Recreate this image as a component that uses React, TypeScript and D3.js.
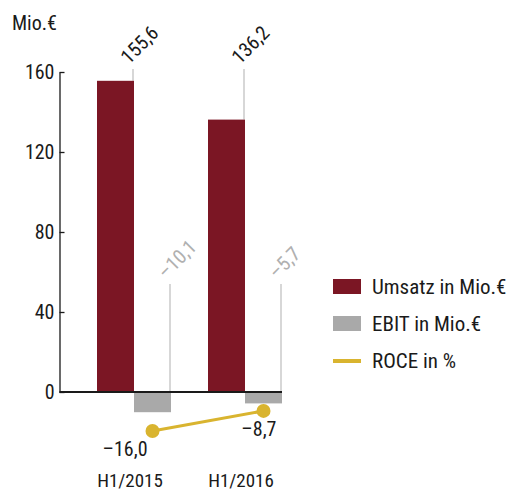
import React, { useEffect, useRef } from 'react';
import * as d3 from 'd3';

// chart data
const categories = ['H1/2015', 'H1/2016'];
const seriesKeys = ['umsatz', 'ebit'];
const umsatz = [155.6, 136.2];
const ebit = [-10.1, -5.7];
const roce = [-16.0, -8.7];
const yTicks = [0, 40, 80, 120, 160];
const legendLabels = ['Umsatz in Mio.€', 'EBIT in Mio.€', 'ROCE in %'];

const FONT = 'Roboto, "DejaVu Sans", sans-serif';
const colors = { umsatz: '#7b1624', ebit: '#a9a9a9', roce: '#d9b42f' };

const de = d3.formatLocale({
  decimal: ',',
  thousands: '.',
  grouping: [3],
  currency: ['', '€'],
  minus: '\u2013',
});
const fmt = de.format('.1f');

const App: React.FC = () => {
  const svgRef = useRef<SVGSVGElement>(null);

  useEffect(() => {
    if (!svgRef.current) return;
    const svg = d3.select(svgRef.current);
    svg.selectAll('*').remove();

    const g = svg.append('g')
      .style('font-family', FONT)
      .style('font-stretch', 'condensed');

    const y = d3.scaleLinear().domain([0, 160]).range([392, 72]);
    const roceY = d3.scaleLinear().domain([-20, 0]).range([442, 387]);

    const x0 = d3.scaleBand<string>()
      .domain(categories)
      .range([60, 319])
      .paddingInner(1 / 3)
      .paddingOuter(1 / 3);
    const x1 = d3.scaleBand<string>()
      .domain(seriesKeys)
      .range([0, x0.bandwidth()]);

    // unit label
    g.append('text')
      .attr('x', 12)
      .attr('y', 30)
      .style('font-size', '20px')
      .attr('fill', '#1a1a1a')
      .text('Mio.€');

    // y axis
    const axis = g.append('g')
      .attr('transform', 'translate(59.5,0)')
      .call(d3.axisLeft(y).tickValues(yTicks).tickSize(-5).tickSizeOuter(0).tickPadding(5));
    axis.select('.domain').attr('stroke', '#1a1a1a').attr('stroke-width', 1.3);
    axis.selectAll('.tick line').attr('stroke', '#1a1a1a').attr('stroke-width', 1.3);
    axis.selectAll('.tick text')
      .attr('fill', '#1a1a1a')
      .style('font-size', '20px')
      .style('font-family', FONT)
      .style('font-stretch', 'condensed');

    const rows = categories.map((c, i) => ({
      cat: c,
      values: [
        { key: 'umsatz', value: umsatz[i] },
        { key: 'ebit', value: ebit[i] },
      ],
    }));

    // leader lines + rotated value labels
    rows.forEach((row) => {
      row.values.forEach((d) => {
        const lx = (x0(row.cat) || 0) + (x1(d.key) || 0) + x1.bandwidth() - 1;
        const top = d.key === 'umsatz' ? y(160) - 3 : y(54);
        const bottom = d.value > 0 ? y(d.value) : y(0);
        g.append('line')
          .attr('x1', lx).attr('x2', lx)
          .attr('y1', top).attr('y2', bottom)
          .attr('stroke', '#bdbdbd')
          .attr('stroke-width', 1.2);
        g.append('text')
          .attr('transform', `translate(${lx - 4},${top - 4}) rotate(-45)`)
          .style('font-size', '20px')
          .attr('fill', d.key === 'umsatz' ? '#1a1a1a' : '#b0b0b0')
          .text(fmt(d.value));
      });
    });

    // bars
    rows.forEach((row) => {
      g.append('g')
        .attr('transform', `translate(${x0(row.cat)},0)`)
        .selectAll('rect')
        .data(row.values)
        .enter()
        .append('rect')
        .attr('x', (d) => x1(d.key) || 0)
        .attr('width', x1.bandwidth())
        .attr('y', (d) => y(Math.max(0, d.value)))
        .attr('height', (d) => Math.abs(y(d.value) - y(0)))
        .attr('fill', (d) => colors[d.key as keyof typeof colors]);
    });

    // zero line
    g.append('line')
      .attr('x1', 59.5)
      .attr('x2', (x0(categories[1]) || 0) + x0.bandwidth())
      .attr('y1', y(0)).attr('y2', y(0))
      .attr('stroke', '#1a1a1a')
      .attr('stroke-width', 1.8);

    // ROCE line
    const rx = (i: number) => (x0(categories[i]) || 0) + (x1('ebit') || 0) + x1.bandwidth() / 2;
    const line = d3.line<number>()
      .x((_, i) => rx(i))
      .y((d) => roceY(d));
    g.append('path')
      .datum(roce)
      .attr('d', line)
      .attr('fill', 'none')
      .attr('stroke', colors.roce)
      .attr('stroke-width', 3);
    g.selectAll('.roce-dot')
      .data(roce)
      .enter()
      .append('circle')
      .attr('class', 'roce-dot')
      .attr('cx', (_, i) => rx(i))
      .attr('cy', (d) => roceY(d))
      .attr('r', 7)
      .attr('fill', colors.roce);
    g.selectAll('.roce-label')
      .data(roce)
      .enter()
      .append('text')
      .attr('class', 'roce-label')
      .attr('x', (_, i) => (i === 0 ? rx(i) - 5 : rx(i) + 13))
      .attr('y', (d) => roceY(d) + 25)
      .attr('text-anchor', 'end')
      .style('font-size', '20px')
      .attr('fill', '#1a1a1a')
      .text((d) => fmt(d));

    // category labels
    g.selectAll('.cat')
      .data(categories)
      .enter()
      .append('text')
      .attr('class', 'cat')
      .attr('x', (d) => (x0(d) || 0) + x0.bandwidth() / 2 - 4)
      .attr('y', 487)
      .attr('text-anchor', 'middle')
      .style('font-size', '19px')
      .attr('fill', '#1a1a1a')
      .text((d) => d);

    // legend
    const legend = g.append('g').attr('transform', 'translate(333,279)');
    legendLabels.forEach((label, i) => {
      const item = legend.append('g').attr('transform', `translate(0,${i * 37})`);
      if (i < 2) {
        item.append('rect')
          .attr('width', 28)
          .attr('height', 15)
          .attr('fill', i === 0 ? colors.umsatz : colors.ebit);
      } else {
        item.append('rect')
          .attr('y', 6)
          .attr('width', 28)
          .attr('height', 4)
          .attr('fill', colors.roce);
      }
      item.append('text')
        .attr('x', 39)
        .attr('y', 15)
        .style('font-size', '21px')
        .attr('fill', '#1a1a1a')
        .text(label);
    });
  }, []);

  return (
    <svg
      ref={svgRef}
      width={512}
      height={492}
      style={{ position: 'absolute', left: 0, top: 0, background: '#fff' }}
    />
  );
};

export default App;
